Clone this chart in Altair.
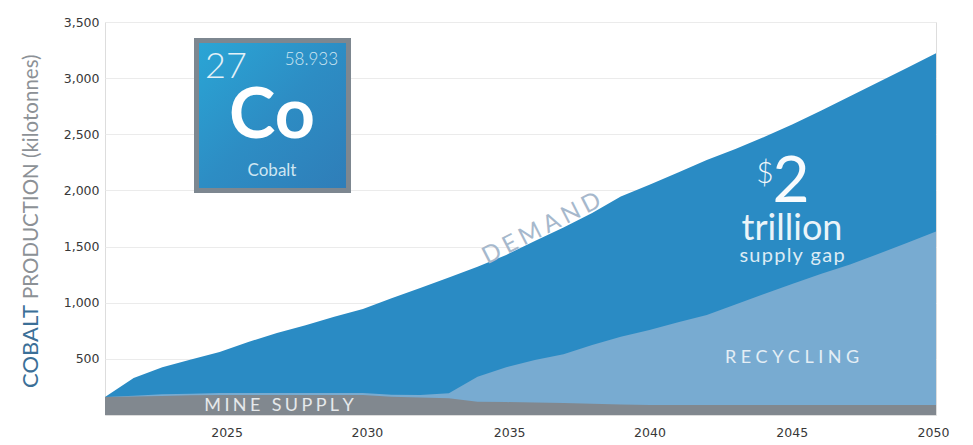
import altair as alt
import pandas as pd

years = list(range(2021, 2051))
demand = [160, 330, 425, 495, 560, 650, 730, 800, 875, 945,
          1040, 1130, 1225, 1320, 1425, 1550, 1670, 1800, 1945, 2050,
          2160, 2270, 2370, 2475, 2590, 2712, 2838, 2965, 3092, 3222]
recycling = [160, 172, 185, 190, 195, 195, 195, 195, 195, 195,
             180, 178, 193, 341, 425, 490, 541, 624, 698, 757,
             825, 891, 985, 1078, 1170, 1258, 1340, 1436, 1535, 1634]
mine = [160, 165, 170, 175, 178, 178, 178, 178, 178, 178,
        163, 155, 150, 118, 115, 112, 106, 100, 94, 89,
        89, 89, 89, 89, 89, 89, 89, 89, 89, 89]
y_ticks = [500, 1000, 1500, 2000, 2500, 3000, 3500]
x_ticks = [2025, 2030, 2035, 2040, 2045, 2050]

BLUE = "#2A8BC4"
LIGHT = "#78ABD1"
GREY = "#81888F"
SANS = "Lato"
AXIS_FONT = "DejaVu Sans"
HAIR = "\u200a"


def spaced(word, n=1):
    return (HAIR * n).join(word)


frame = pd.DataFrame({"year": years, "demand": demand, "recycling": recycling, "mine": mine})

x_scale = alt.Scale(domain=[2021, 2050], nice=False, zero=False)
y_scale = alt.Scale(domain=[0, 3500], nice=False)


def band(column, colour):
    return alt.Chart(frame).mark_area(color=colour, opacity=1, interpolate="linear").encode(
        x=alt.X("year:Q", scale=x_scale),
        y=alt.Y(f"{column}:Q", scale=y_scale),
        y2=alt.datum(0),
    )


def label(text, x, y, size, colour="#F2F7FA", **kw):
    kw.setdefault("font", SANS)
    kw.setdefault("align", "center")
    return alt.Chart(frame.head(1)).mark_text(
        fontSize=size, color=colour, baseline="alphabetic", **kw
    ).encode(x=alt.value(x), y=alt.value(y), text=alt.value(text))


grid_axes = alt.Chart(frame).mark_area(opacity=0).encode(
    x=alt.X(
        "year:Q",
        scale=x_scale,
        title=None,
        axis=alt.Axis(
            values=x_ticks, format="d", domain=False, ticks=False, grid=False,
            labelFont=AXIS_FONT, labelFontSize=12.5,
            labelColor="#383838", labelPadding=11,
            labelOffset={
                "condition": [
                    {"test": "datum.value === 2025", "value": 7},
                    {"test": "datum.value === 2030", "value": 4},
                    {"test": "datum.value === 2035", "value": 3},
                    {"test": "datum.value === 2045", "value": -1},
                    {"test": "datum.value === 2050", "value": -3},
                ],
                "value": 0,
            },
            labelBound=False, labelFlush=False, labelOverlap=False,
        ),
    ),
    y=alt.Y(
        "demand:Q",
        scale=y_scale,
        title=None,
        axis=alt.Axis(
            values=y_ticks, format=",d", domain=False, ticks=False, grid=True,
            gridColor="#EBEBEB", gridWidth=1.2,
            labelFont=AXIS_FONT, labelFontSize=12.5,
            labelColor="#383838", labelPadding=6,
        ),
    ),
)

# Periodic-table tile for the element
tile = alt.Chart(frame.head(1)).mark_rect(
    fill=alt.Gradient(
        gradient="linear", x1=0, y1=0, x2=1, y2=1,
        stops=[
            alt.GradientStop(offset=0, color="#2AA6D6"),
            alt.GradientStop(offset=0.5, color="#2D8DC4"),
            alt.GradientStop(offset=1, color="#2F7DB8"),
        ],
    ),
    stroke="#7D8790", strokeWidth=5,
).encode(x=alt.value(91.5), x2=alt.value(243.5), y=alt.value(18.5), y2=alt.value(168.5))

layers = [
    grid_axes,
    band("demand", BLUE),
    band("recycling", LIGHT),
    band("mine", GREY),
    tile,
    label("27", 100, 56, 36, "#E4F1F8", align="left", fontWeight=300),
    label("58.933", 233, 43, 17, "#CFE6F2", align="right", fontWeight=300),
    label("Co", 167, 116, 70, "#FFFFFF", fontWeight="bold"),
    label("Cobalt", 167, 154, 17, "#CFE6F2"),
    label(spaced("DEMAND", 3), 440, 213, 24, "#A6B8CC", angle=333),
    label("$", 660, 161, 30, "#F2F7FA", fontWeight=300),
    label("2", 686, 180, 64, "#F8FBFD"),
    label("trillion", 687, 218, 36, "#EAF4F9"),
    label(spaced("supply gap"), 687, 240, 20, "#DCEBF4"),
    label(spaced("RECYCLING", 4), 687, 341, 18, "#E4EEF5"),
    label(spaced("MINE SUPPLY", 3), 174, 389, 18, "#E6E9EB"),
    label("COBALT", -67, 366, 22, "#3B6F97", angle=270, align="left"),
    label("PRODUCTION (kilotonnes)", -67, 277, 20.5, "#8C9196", angle=270, align="left"),
]

chart = alt.layer(*layers).properties(
    width=831,
    height=393,
    padding={"left": 105, "top": 22, "right": 37, "bottom": 30},
    autosize=alt.AutoSizeParams(type="none"),
).configure_view(stroke=None).configure(background="#FFFFFF")

chart.save("out.html", embed_options={"renderer": "svg", "actions": False})
